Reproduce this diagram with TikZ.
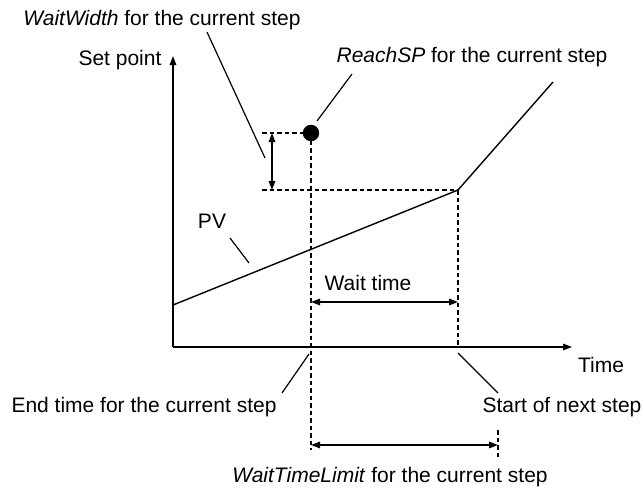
\documentclass[tikz,border=0pt]{standalone}
\usepackage{fontspec}
\setmainfont{Liberation Sans}
\usetikzlibrary{arrows.meta}

\begin{document}
\begin{tikzpicture}[x=1pt, y=-1pt, line width=1.4pt,
        lbl/.style={inner sep=0pt, font=\fontsize{21}{25}\selectfont},
        guide/.style={line width=1.2pt, dash pattern=on 4.5pt off 3pt},
        tip/.style={-{Triangle[length=9pt,width=6.5pt]}},
        dim/.style={{Triangle[length=9pt,width=6.5pt]}-{Triangle[length=9pt,width=6.5pt]}}]
        \useasboundingbox (0,0) rectangle (642,488);

        % Axes
        \coordinate (o) at (173,347);
        \coordinate (ytop) at (173,56);
        \coordinate (xend) at (572,347);
        \draw[tip] (o) -- (ytop);
        \draw[tip] (o) -- (xend);

        % PV curve
        \coordinate (p0) at (173,305);
        \coordinate (pk) at (458,190);
        \coordinate (p1) at (553,82);
        \draw (p0) -- (pk) -- (p1);

        % ReachSP point and dashed guides
        \coordinate (sp) at (311,133);
        \coordinate (g1) at (262,133);
        \coordinate (g2) at (262,190);
        \coordinate (spdown) at (311,450);
        \coordinate (pkdown) at (458,347);
        \coordinate (lim1) at (498,430);
        \coordinate (lim2) at (498,460);
        \draw[guide] (g1) -- (sp);
        \draw[guide] (g2) -- (pk);
        \draw[guide] (sp) -- (spdown);
        \draw[guide] (pk) -- (pkdown);
        \draw[guide] (lim1) -- (lim2);
        \filldraw (sp) circle (7.5pt);

        % Dimension arrows
        \coordinate (w1) at (272,133);
        \coordinate (w2) at (272,190);
        \coordinate (t1) at (311,302);
        \coordinate (t2) at (458,302);
        \coordinate (l1) at (311,445);
        \coordinate (l2) at (498,445);
        \draw[dim] (w1) -- (w2);
        \draw[dim] (t1) -- (t2);
        \draw[dim] (l1) -- (l2);

        % Labels
        \node[lbl] (ww)    at (162,20)  {\textit{WaitWidth} for the current step};
        \node[lbl] (setpt) at (120,60)  {Set point};
        \node[lbl] (rsp)   at (472,57)  {\textit{ReachSP} for the current step};
        \node[lbl] (pv)    at (212,221) {PV};
        \node[lbl] (wt)    at (368,283) {Wait time};
        \node[lbl] (time)  at (601,365) {Time};
        \node[lbl] (endt)  at (144,407) {End time for the current step};
        \node[lbl] (nxt)   at (562,407) {Start of next step};
        \node[lbl] (wtl)   at (390,477) {\textit{WaitTimeLimit} for the current step};

        % Leader lines
        \coordinate (ww-a) at (207,32);
        \coordinate (ww-b) at (265,158);
        \coordinate (rsp-a) at (352,74);
        \coordinate (rsp-b) at (317,121);
        \coordinate (pv-a) at (230,238);
        \coordinate (pv-b) at (249,263);
        \coordinate (endt-a) at (282,393);
        \coordinate (endt-b) at (309,354);
        \coordinate (nxt-a) at (498,393);
        \coordinate (nxt-b) at (458,353);
        \draw[line width=1.2pt] (ww-a) -- (ww-b);
        \draw[line width=1.2pt] (rsp-a) -- (rsp-b);
        \draw[line width=1.2pt] (pv-a) -- (pv-b);
        \draw[line width=1.2pt] (endt-a) -- (endt-b);
        \draw[line width=1.2pt] (nxt-a) -- (nxt-b);
\end{tikzpicture}
\end{document}
